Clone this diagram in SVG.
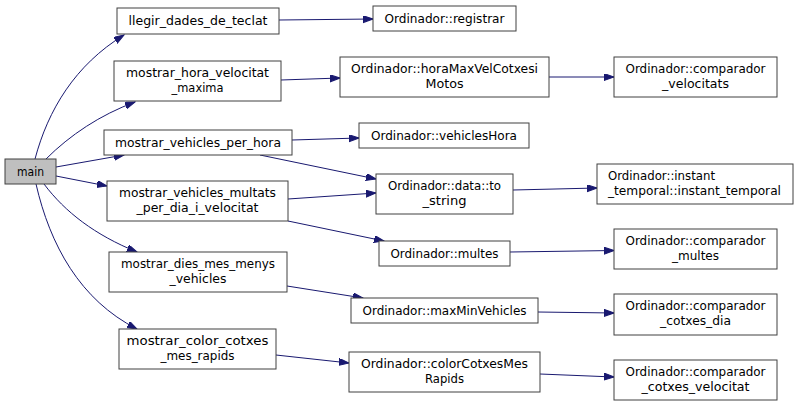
<svg xmlns="http://www.w3.org/2000/svg" width="799" height="406" viewBox="0 0 799 406">
<style>
.n rect{fill:#ffffff;stroke:#404040;stroke-width:1}
.n.m rect{fill:#bfbfbf}
text{font-family:"DejaVu Sans","Liberation Sans",sans-serif;font-size:12px;fill:#000;text-anchor:middle}
.l{text-anchor:start}
#edges path{fill:none;stroke:#191970;stroke-width:1;marker-end:url(#ah)}
</style>
<defs>
<marker id="ah" markerUnits="userSpaceOnUse" markerWidth="11" markerHeight="8" refX="10" refY="3.5" orient="auto">
<path d="M0,0 L10,3.5 L0,7 z" fill="#191970" stroke="#191970" stroke-width="1"/>
</marker>
</defs>
<rect width="799" height="406" fill="#ffffff"/>
<g id="edges">
<path d="M35,159 C48,110 75,65 124,35"/>
<path d="M46,159 C70,135 100,115 135,102"/>
<path d="M56,167 L124,155"/>
<path d="M56,176 L107,186"/>
<path d="M44,184 C65,212 95,235 137,252"/>
<path d="M36,184 C50,245 80,300 137,329"/>
<path d="M279,20 L373,19"/>
<path d="M281,80 L340,78"/>
<path d="M292,140 L359,138"/>
<path d="M260,155 L376,179"/>
<path d="M288,199 L376,193"/>
<path d="M288,221 L384,241"/>
<path d="M287,286 L363,298"/>
<path d="M276,355 L349,363"/>
<path d="M549,77 L614,77"/>
<path d="M513,190 L597,188"/>
<path d="M510,252 L614,250.5"/>
<path d="M538,312 L614,313"/>
<path d="M540,374 L614,377"/>
</g>
<g id="main" class="n m"><rect x="5" y="159" width="51" height="25"/><text x="30.5" y="175.5" textLength="27" lengthAdjust="spacingAndGlyphs">main</text></g>
<g id="llegir_dades_de_teclat" class="n"><rect x="117" y="8" width="162" height="26"/><text x="198" y="25" textLength="139" lengthAdjust="spacingAndGlyphs">llegir_dades_de_teclat</text></g>
<g id="mostrar_hora_velocitat_maxima" class="n"><rect x="114" y="61" width="167" height="40"/><text x="197.5" y="76.5" textLength="143" lengthAdjust="spacingAndGlyphs">mostrar_hora_velocitat</text><text x="197.5" y="91.5" textLength="52" lengthAdjust="spacingAndGlyphs">_maxima</text></g>
<g id="mostrar_vehicles_per_hora" class="n"><rect x="104" y="130" width="188" height="25"/><text x="198" y="146.5" textLength="166" lengthAdjust="spacingAndGlyphs">mostrar_vehicles_per_hora</text></g>
<g id="mostrar_vehicles_multats_per_dia_i_velocitat" class="n"><rect x="107" y="181" width="181" height="40"/><text x="197.5" y="196.5" textLength="157" lengthAdjust="spacingAndGlyphs">mostrar_vehicles_multats</text><text x="197.5" y="211.5" textLength="122" lengthAdjust="spacingAndGlyphs">_per_dia_i_velocitat</text></g>
<g id="mostrar_dies_mes_menys_vehicles" class="n"><rect x="109" y="252" width="178" height="40"/><text x="198" y="267.5" textLength="154" lengthAdjust="spacingAndGlyphs">mostrar_dies_mes_menys</text><text x="198" y="282.5" textLength="57" lengthAdjust="spacingAndGlyphs">_vehicles</text></g>
<g id="mostrar_color_cotxes_mes_rapids" class="n"><rect x="119" y="329" width="157" height="40"/><text x="197.5" y="344.5" textLength="142" lengthAdjust="spacingAndGlyphs">mostrar_color_cotxes</text><text x="197.5" y="359.5" textLength="74" lengthAdjust="spacingAndGlyphs">_mes_rapids</text></g>
<g id="registrar" class="n"><rect x="373" y="6" width="143" height="25"/><text x="444.5" y="22.5" textLength="120" lengthAdjust="spacingAndGlyphs">Ordinador::registrar</text></g>
<g id="horaMaxVelCotxesiMotos" class="n"><rect x="340" y="57" width="209" height="40"/><text x="444.5" y="72.5" textLength="187" lengthAdjust="spacingAndGlyphs">Ordinador::horaMaxVelCotxesi</text><text x="444.5" y="87.5" textLength="38" lengthAdjust="spacingAndGlyphs">Motos</text></g>
<g id="vehiclesHora" class="n"><rect x="359" y="123" width="170" height="25"/><text x="444" y="139.5" textLength="146" lengthAdjust="spacingAndGlyphs">Ordinador::vehiclesHora</text></g>
<g id="to_string" class="n"><rect x="376" y="174" width="137" height="40"/><text x="444.5" y="189.5" textLength="113" lengthAdjust="spacingAndGlyphs">Ordinador::data::to</text><text x="444.5" y="204.5" textLength="44" lengthAdjust="spacingAndGlyphs">_string</text></g>
<g id="multes" class="n"><rect x="379" y="241" width="131" height="25"/><text x="444.5" y="257.5" textLength="108" lengthAdjust="spacingAndGlyphs">Ordinador::multes</text></g>
<g id="maxMinVehicles" class="n"><rect x="351" y="298" width="187" height="25"/><text x="444.5" y="314.5" textLength="164" lengthAdjust="spacingAndGlyphs">Ordinador::maxMinVehicles</text></g>
<g id="colorCotxesMesRapids" class="n"><rect x="349" y="352" width="191" height="40"/><text x="444.5" y="367.5" textLength="167" lengthAdjust="spacingAndGlyphs">Ordinador::colorCotxesMes</text><text x="444.5" y="382.5" textLength="39" lengthAdjust="spacingAndGlyphs">Rapids</text></g>
<g id="comparador_velocitats" class="n"><rect x="614" y="57" width="163" height="40"/><text x="695.5" y="72.5" textLength="140" lengthAdjust="spacingAndGlyphs">Ordinador::comparador</text><text x="695.5" y="87.5" textLength="67" lengthAdjust="spacingAndGlyphs">_velocitats</text></g>
<g id="instant_temporal" class="n"><rect x="597" y="164" width="196" height="40"/><text class="l" x="608" y="179.5" textLength="107" lengthAdjust="spacingAndGlyphs">Ordinador::instant</text><text class="l" x="608" y="194.5" textLength="173" lengthAdjust="spacingAndGlyphs">_temporal::instant_temporal</text></g>
<g id="comparador_multes" class="n"><rect x="614" y="229" width="163" height="40"/><text x="695.5" y="244.5" textLength="140" lengthAdjust="spacingAndGlyphs">Ordinador::comparador</text><text x="695.5" y="259.5" textLength="47" lengthAdjust="spacingAndGlyphs">_multes</text></g>
<g id="comparador_cotxes_dia" class="n"><rect x="614" y="294" width="163" height="41"/><text x="695.5" y="310" textLength="140" lengthAdjust="spacingAndGlyphs">Ordinador::comparador</text><text x="695.5" y="325" textLength="71" lengthAdjust="spacingAndGlyphs">_cotxes_dia</text></g>
<g id="comparador_cotxes_velocitat" class="n"><rect x="614" y="360" width="163" height="40"/><text x="695.5" y="375.5" textLength="140" lengthAdjust="spacingAndGlyphs">Ordinador::comparador</text><text x="695.5" y="390.5" textLength="108" lengthAdjust="spacingAndGlyphs">_cotxes_velocitat</text></g>
</svg>
